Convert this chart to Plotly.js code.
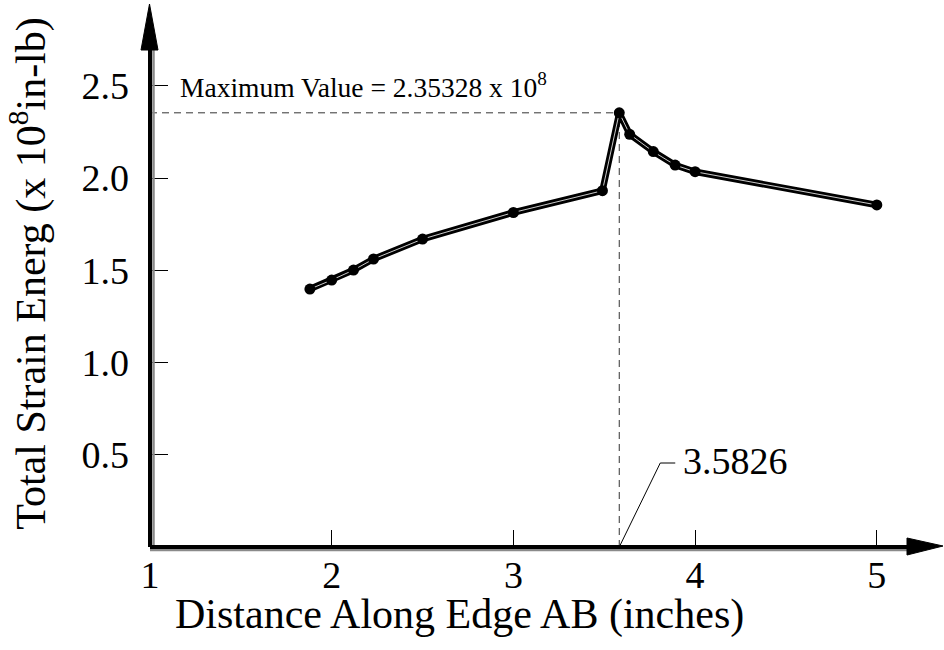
<!DOCTYPE html>
<html>
<head>
<meta charset="utf-8">
<script src="https://cdn.plot.ly/plotly-3.0.1.min.js"></script>
<style>html,body{margin:0;padding:0;background:#fff;}#chart{width:944px;height:650px;}</style>
</head>
<body>
<div id="chart"></div>
<script>
// Data
const distance = [1.88, 2.0, 2.12, 2.23, 2.5, 3.0, 3.49, 3.5826, 3.64, 3.77, 3.89, 4.0, 5.0];
const strainEnergy = [1.398, 1.447, 1.501, 1.561, 1.669, 1.813, 1.931, 2.35328, 2.237, 2.143, 2.070, 2.034, 1.854];
const xTickVals = [1, 2, 3, 4, 5];
const xTickText = ['1', '2', '3', '4', '5'];
const yTickVals = [0.5, 1.0, 1.5, 2.0, 2.5];
const yTickText = ['0.5', '1.0', '1.5', '2.0', '2.5'];
const maxX = 3.5826;
const maxY = 2.35328;
const maxLabel = 'Maximum Value = 2.35328 x 10<sup>8</sup>';
const maxXLabel = '3.5826';
const xTitle = 'Distance Along Edge AB (inches)';
const yTitle = 'Total Strain Energ (x 10<sup>8</sup>in-lb)';

const FONT = '"Liberation Serif", "Times New Roman", serif';

const traces = [
  {x: distance, y: strainEnergy, mode: 'lines', line: {color: '#000', width: 6.5}, hoverinfo: 'skip', showlegend: false},
  {x: distance, y: strainEnergy, mode: 'lines', line: {color: '#fff', width: 0.8}, hoverinfo: 'skip', showlegend: false},
  {x: distance, y: strainEnergy, mode: 'markers', marker: {color: '#000', size: 11, symbol: 'circle'}, showlegend: false}
];

// plot area: x 150..944 px, y 0..547 px
const W = 794, H = 547;
const px = v => (v - 150) / W;
const py = v => (547 - v) / H;

const shapes = [
  // dashed guides to maximum
  {type: 'line', xref: 'x', yref: 'y', x0: xTickVals[0], x1: maxX, y0: maxY, y1: maxY, line: {color: '#333', width: 1, dash: '7px,5px'}, layer: 'below'},
  {type: 'line', xref: 'x', yref: 'y', x0: maxX, x1: maxX, y0: 0, y1: maxY, line: {color: '#333', width: 1, dash: '7px,5px'}, layer: 'below'},
  // axis shadows (grey)
  {type: 'line', xref: 'paper', yref: 'paper', xsizemode: 'pixel', xanchor: 0, x0: 3.5, x1: 3.5, y0: 0, y1: py(48), line: {color: '#8a8a8a', width: 2.5}},
  {type: 'line', xref: 'paper', yref: 'paper', ysizemode: 'pixel', yanchor: 0, y0: -3, y1: -3, x0: 0, x1: px(908), line: {color: '#8a8a8a', width: 2.5}},
  // axis lines (black)
  {type: 'line', xref: 'paper', yref: 'paper', x0: 0, x1: 0, y0: 0, y1: py(40), line: {color: '#000', width: 4}},
  {type: 'line', xref: 'paper', yref: 'paper', x0: 0, x1: px(912), y0: 0, y1: 0, line: {color: '#000', width: 4}},
  // arrow heads
  {type: 'path', xref: 'paper', yref: 'paper', path: `M ${px(149.5)} ${py(4)} L ${px(141)} ${py(50)} L ${px(158)} ${py(50)} Z`, fillcolor: '#000', line: {color: '#000', width: 1}},
  {type: 'path', xref: 'paper', yref: 'paper', path: `M ${px(943)} ${py(546)} L ${px(907)} ${py(538)} L ${px(907)} ${py(555)} Z`, fillcolor: '#000', line: {color: '#000', width: 1}},
  // leader line for 3.5826 label
  {type: 'path', xref: 'x', yref: 'y', xsizemode: 'pixel', ysizemode: 'pixel', xanchor: maxX, yanchor: 0, path: 'M 0 0 L 41 84 L 56 84', line: {color: '#000', width: 1}}
];

const annotations = [
  {text: maxLabel, xref: 'x', yref: 'y', x: xTickVals[0], y: maxY, xanchor: 'left', yanchor: 'bottom', xshift: 28, yshift: 8, showarrow: false, font: {family: FONT, size: 27.5, color: '#000'}},
  {text: maxXLabel, xref: 'x', yref: 'y', x: maxX, y: 0, xanchor: 'left', yanchor: 'middle', xshift: 62, yshift: 86, showarrow: false, font: {family: FONT, size: 38, color: '#000'}},
  {text: xTitle, xref: 'paper', yref: 'paper', x: px(459), y: 0, xanchor: 'center', yanchor: 'top', yshift: -42, showarrow: false, font: {family: FONT, size: 42, color: '#000'}}
];

const layout = {
  width: 944, height: 650,
  margin: {l: 150, r: 0, t: 0, b: 103, pad: 0},
  paper_bgcolor: '#fff', plot_bgcolor: '#fff',
  showlegend: false,
  font: {family: FONT, color: '#000'},
  xaxis: {
    range: [1, 1 + W / 181.7], showgrid: false, zeroline: false, showline: false,
    tickmode: 'array', tickvals: xTickVals, ticktext: xTickText,
    ticks: 'inside', ticklen: 17, tickwidth: 1, tickcolor: '#000',
    tickfont: {family: FONT, size: 38, color: '#000'}, ticklabelstandoff: 2
  },
  yaxis: {
    range: [0, H / 184.5], showgrid: false, zeroline: false, showline: false,
    tickmode: 'array', tickvals: yTickVals, ticktext: yTickText,
    ticks: 'inside', ticklen: 18, tickwidth: 1, tickcolor: '#000',
    tickfont: {family: FONT, size: 38, color: '#000'}, ticklabelstandoff: 20,
    title: {text: yTitle, font: {family: FONT, size: 42, color: '#000'}, standoff: 22},
    automargin: false
  },
  shapes: shapes,
  annotations: annotations
};

Plotly.newPlot('chart', traces, layout, {displayModeBar: false, staticPlot: true});
</script>
</body>
</html>
